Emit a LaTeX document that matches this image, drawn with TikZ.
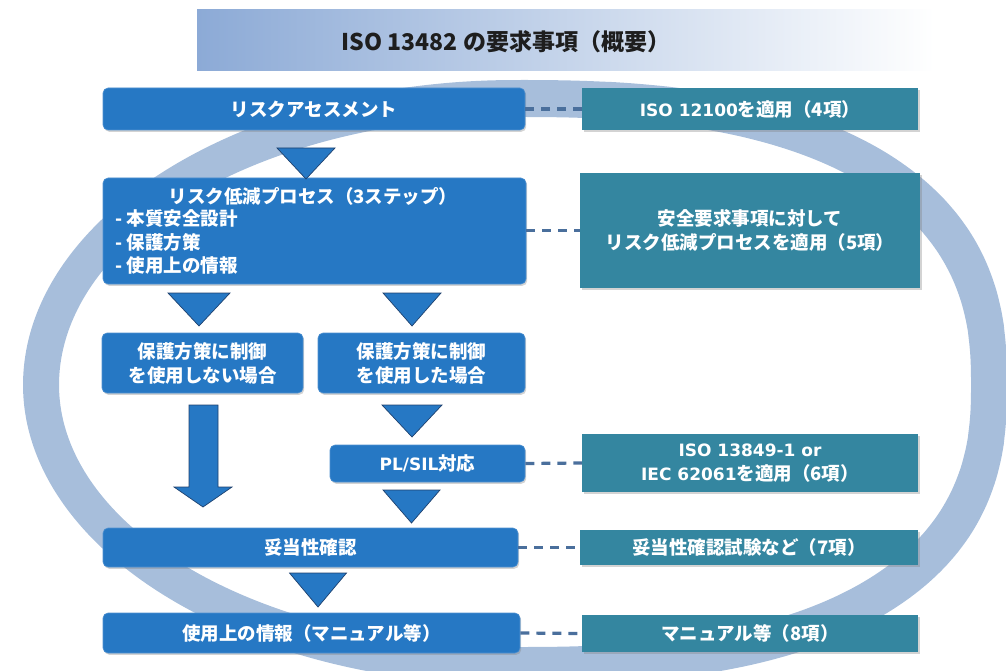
\documentclass[tikz,border=0pt]{standalone}
\usepackage{fontspec}
\newfontfamily\jp{Noto Sans CJK JP}
\newfontfamily\latf{DejaVu Sans}
\usetikzlibrary{shadows}
\definecolor{boxblue}{RGB}{38,120,196}
\definecolor{boxedge}{RGB}{80,145,208}
\definecolor{tealbox}{RGB}{52,134,160}
\definecolor{ringcol}{RGB}{167,190,219}
\definecolor{dashcol}{RGB}{74,111,156}
\definecolor{titleL}{RGB}{140,170,214}
\definecolor{tridark}{RGB}{30,65,110}
\definecolor{titletext}{RGB}{30,30,30}
\newcommand\latpart[1]{{\latf\bfseries\fontsize{17}{24}\selectfont #1}}
\newcommand\dtri[4]{\filldraw[tri] (#1-#4,#2) -- (#1+#4,#2) -- (#1,#3) -- cycle;}
\tikzset{
  lbox/.style={fill=boxblue, draw=boxedge, line width=0.6pt, rounded corners=5pt,
    text=white, align=center, inner sep=0pt,
    font=\jp\bfseries\fontsize{18.5}{24}\selectfont,
    drop shadow={opacity=0.35, shadow xshift=1.2pt, shadow yshift=-1.8pt}},
  rbox/.style={fill=tealbox, draw=none, text=white, align=center, inner sep=0pt,
    font=\jp\bfseries\fontsize{18.5}{24}\selectfont,
    drop shadow={opacity=0.35, shadow xshift=1.5pt, shadow yshift=-1.8pt}},
  btext/.style={text=white, inner sep=0pt, font=\jp\bfseries\fontsize{18.5}{24}\selectfont},
  tri/.style={fill=boxblue, draw=tridark, line width=0.7pt, line join=miter},
  dashlink/.style={draw=dashcol, line width=3.2pt, dash pattern=on 9pt off 7pt},
}
\begin{document}
\begin{tikzpicture}[x=1pt,y=-1pt]
\useasboundingbox (0,0) rectangle (1006,671);
\begin{scope}
\clip (0,0) rectangle (1006,671);
% ring: elliptic left half, slightly boxy right half
\fill[ringcol,even odd rule]
  plot[domain=0.5:359.5, samples=360, variable=\t]
   ({515 + 492*sign(cos(\t))*pow(abs(cos(\t)), (abs(\t-180)<90 ? 1 : 0.8))},
    {385 + (\t<180 ? 300 : 305)*sign(sin(\t))*pow(abs(sin(\t)), (abs(\t-180)<90 ? 1 : 0.8))}) -- cycle
  plot[domain=0.5:359.5, samples=360, variable=\t]
   ({515 + 456*sign(cos(\t))*pow(abs(cos(\t)), (abs(\t-180)<90 ? 1 : 0.8))},
    {385 + (\t<180 ? 262 : 268)*sign(sin(\t))*pow(abs(sin(\t)), (abs(\t-180)<90 ? 1 : 0.8))}) -- cycle;
\end{scope}
% title banner
\shade[left color=titleL, right color=white] (197,10) rectangle (935,71);
\node[text=titletext, font=\jp\bfseries\fontsize{23}{26}\selectfont] (title) at (506,42) {ISO 13482 の要求事項（概要）};

% left column boxes
\node[lbox, minimum width=422pt, minimum height=42pt] (ra) at (314,109) {リスクアセスメント};
\node[lbox, minimum width=423pt, minimum height=106pt] (rr) at (314.5,231) {};
\node[btext] (rrt) at (313,196) {リスク低減プロセス（3ステップ）};
\node[btext, anchor=west] (rr1) at (115,218) {- 本質安全設計};
\node[btext, anchor=west] (rr2) at (115,242) {- 保護方策};
\node[btext, anchor=west] (rr3) at (115,265) {- 使用上の情報};
\node[lbox, minimum width=201pt, minimum height=60pt] (nc) at (202.5,363) {保護方策に制御\\を使用しない場合};
\node[lbox, minimum width=207pt, minimum height=60pt] (wc) at (421.5,363) {保護方策に制御\\を使用した場合};
\node[lbox, minimum width=195pt, minimum height=37pt] (pl) at (427.5,463.5) {\latpart{PL/SIL}対応};
\node[lbox, minimum width=415pt, minimum height=39pt] (va) at (310.5,547.5) {妥当性確認};
\node[lbox, minimum width=417pt, minimum height=40pt] (im) at (311.5,633) {使用上の情報（マニュアル等）};

% right column boxes
\node[rbox, minimum width=336pt, minimum height=42pt] (r1) at (750,109) {\latpart{ISO 12100}を適用（4項）};
\node[rbox, minimum width=340pt, minimum height=115pt] (r2) at (750,230.5) {安全要求事項に対して\\リスク低減プロセスを適用（5項）};
\node[rbox, minimum width=336pt, minimum height=58pt] (r3) at (750,463) {\latpart{ISO 13849-1 or}\\\latpart{IEC 62061}を適用（6項）};
\node[rbox, minimum width=338pt, minimum height=35pt] (r4) at (749,547.5) {妥当性確認試験など（7項）};
\node[rbox, minimum width=336pt, minimum height=37pt] (r5) at (750,633.5) {マニュアル等（8項）};

% dashed links
\draw[dashlink] (ra.east) -- (r1.west);
\draw[dashlink] (rr.east |- r2.west) -- (r2.west);
\draw[dashlink] (pl.east) -- (r3.west);
\draw[dashlink] (va.east) -- (r4.west);
\draw[dashlink] (im.east) -- (r5.west);

% flow triangles
\dtri{306}{148}{179}{29}
\dtri{199}{293}{326}{31}
\dtri{412}{293}{326}{29}
\dtri{412}{405}{437}{30}
\dtri{411.5}{490}{523}{28.5}
\dtri{318}{573}{607}{28.5}
% big arrow
\filldraw[tri] (189,405) -- (218,405) -- (218,487) -- (232,487) -- (203,507) -- (174,487) -- (189,487) -- cycle;
\end{tikzpicture}
\end{document}
